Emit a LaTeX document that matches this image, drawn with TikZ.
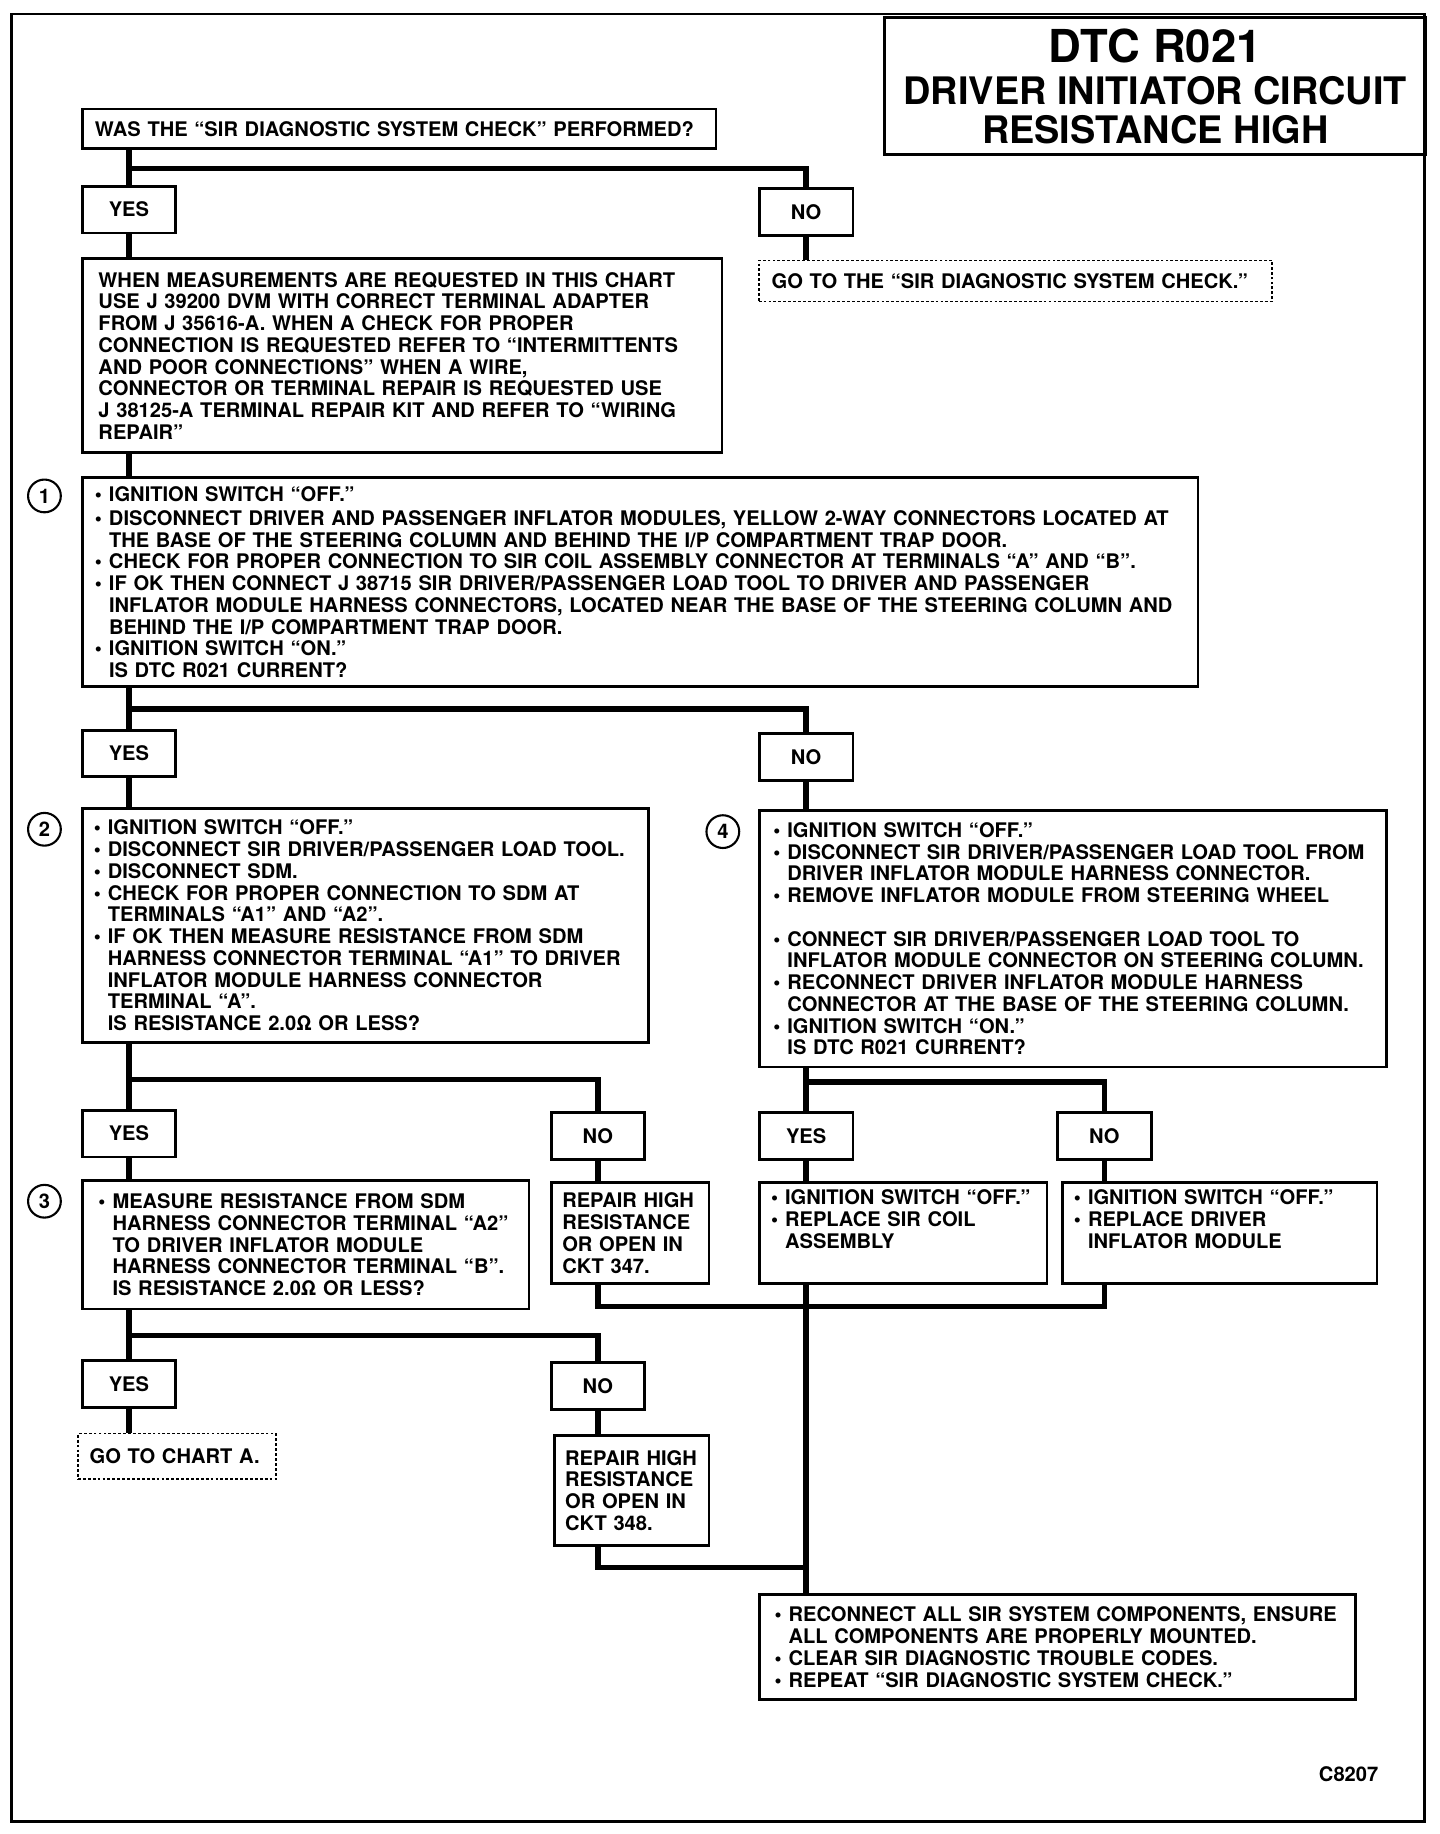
\documentclass[tikz,border=0pt]{standalone}
\usepackage{fontspec}
\setmainfont{TeX Gyre Heros}
\usepackage{tikz}
\newcommand{\chartfont}{\fontsize{8.6}{9.3}\selectfont\bfseries}
\newcommand{\bul}{\makebox[6pt][l]{\textbullet}}
\newcommand{\ind}{\hspace*{6pt}}

\begin{document}
\begin{tikzpicture}[
    x=0.5pt, y=-0.5pt,                % one unit = one pixel of the chart
    box/.style={rectangle, draw, line width=1.2pt, fill=white,
                anchor=north west, align=left, inner xsep=5.5pt,
                inner ysep=0pt, font=\chartfont},
    ans/.style={box, align=center, inner xsep=0pt,
                minimum width=40pt, minimum height=20pt},
    goto/.style={box, line width=0.7pt, dash pattern=on 1.2pt off 0.9pt},
    titlebox/.style={rectangle, draw, line width=1.2pt, anchor=north west,
                     minimum width=231.5pt, minimum height=58.5pt,
                     align=center,
                     font=\bfseries\fontsize{16.2}{16.5}\selectfont},
    num/.style={circle, draw, line width=0.9pt, minimum size=14pt,
                inner sep=0pt, font=\chartfont},
    conn/.style={line width=2.3pt}
]
\useasboundingbox (0,0) rectangle (1231,1568);
\draw [line width=1.2pt] (10,12) rectangle (1218,1557);

\node (title) [titlebox] at (755,14)
    {{\fontsize{19.4}{20}\selectfont DTC R021}\\[1.5pt]
     DRIVER INITIATOR CIRCUIT\\ RESISTANCE HIGH};

\node (q0)    [box, minimum width=271pt, minimum height=17pt,
               text width=260pt] at (69,92)
    {WAS THE “SIR DIAGNOSTIC SYSTEM CHECK” PERFORMED?};
\node (yes1)  [ans] at (69,158)  {YES};
\node (no1)   [ans] at (648,160) {NO};

\node (info)  [box, minimum width=273.5pt, minimum height=83pt,
               inner xsep=7pt, text width=259.5pt] at (69,220)
    {WHEN MEASUREMENTS ARE REQUESTED IN THIS CHART\\
     USE J 39200 DVM WITH CORRECT TERMINAL ADAPTER\\
     FROM J 35616-A. WHEN A CHECK FOR PROPER\\
     CONNECTION IS REQUESTED REFER TO “INTERMITTENTS\\
     AND POOR CONNECTIONS” WHEN A WIRE,\\
     CONNECTOR OR TERMINAL REPAIR IS REQUESTED USE\\
     J 38125-A TERMINAL REPAIR KIT AND REFER TO “WIRING\\
     REPAIR”};
\node (goto1) [goto, minimum width=219.5pt, minimum height=17.5pt,
               text width=208.5pt] at (648,222)
    {GO TO THE “SIR DIAGNOSTIC SYSTEM CHECK.”};

\node (s1)    [box, minimum width=477pt, minimum height=89.5pt,
               text width=466pt] at (69,407)
    {\bul IGNITION SWITCH “OFF.”\\[1pt]
     \bul DISCONNECT DRIVER AND PASSENGER INFLATOR MODULES, YELLOW 2-WAY CONNECTORS LOCATED AT\\
     \ind THE BASE OF THE STEERING COLUMN AND BEHIND THE I/P COMPARTMENT TRAP DOOR.\\
     \bul CHECK FOR PROPER CONNECTION TO SIR COIL ASSEMBLY CONNECTOR AT TERMINALS “A” AND “B”.\\
     \bul IF OK THEN CONNECT J 38715 SIR DRIVER/PASSENGER LOAD TOOL TO DRIVER AND PASSENGER\\
     \ind INFLATOR MODULE HARNESS CONNECTORS, LOCATED NEAR THE BASE OF THE STEERING COLUMN AND\\
     \ind BEHIND THE I/P COMPARTMENT TRAP DOOR.\\
     \bul IGNITION SWITCH “ON.”\\
     \ind IS DTC R021 CURRENT?};
\node (c1)    [num] at (38,424) {1};

\node (yes2)  [ans] at (69,623)  {YES};
\node (no2)   [ans] at (648,626) {NO};

\node (s2)    [box, minimum width=242pt, minimum height=100pt,
               inner xsep=5pt, text width=232pt] at (69,690)
    {\bul IGNITION SWITCH “OFF.”\\
     \bul DISCONNECT SIR DRIVER/PASSENGER LOAD TOOL.\\
     \bul DISCONNECT SDM.\\
     \bul CHECK FOR PROPER CONNECTION TO SDM AT\\
     \ind TERMINALS “A1” AND “A2”.\\
     \bul IF OK THEN MEASURE RESISTANCE FROM SDM\\
     \ind HARNESS CONNECTOR TERMINAL “A1” TO DRIVER\\
     \ind INFLATOR MODULE HARNESS CONNECTOR\\
     \ind TERMINAL “A”.\\
     \ind IS RESISTANCE 2.0Ω OR LESS?};
\node (c2)    [num] at (38,709) {2};

\node (s4)    [box, minimum width=268pt, minimum height=109.5pt,
               inner xsep=6pt, text width=256pt] at (648,692)
    {\bul IGNITION SWITCH “OFF.”\\
     \bul DISCONNECT SIR DRIVER/PASSENGER LOAD TOOL FROM\\
     \ind DRIVER INFLATOR MODULE HARNESS CONNECTOR.\\
     \bul REMOVE INFLATOR MODULE FROM STEERING WHEEL\\[9.3pt]
     \bul CONNECT SIR DRIVER/PASSENGER LOAD TOOL TO\\
     \ind INFLATOR MODULE CONNECTOR ON STEERING COLUMN.\\
     \bul RECONNECT DRIVER INFLATOR MODULE HARNESS\\
     \ind CONNECTOR AT THE BASE OF THE STEERING COLUMN.\\
     \bul IGNITION SWITCH “ON.”\\
     \ind IS DTC R021 CURRENT?};
\node (c4)    [num] at (618,711) {4};

\node (yes3)  [ans] at (69,948)  {YES};
\node (no3)   [ans] at (470,950) {NO};
\node (yes4)  [ans] at (648,950) {YES};
\node (no4)   [ans] at (903,950) {NO};

\node (s3)    [box, minimum width=191pt, minimum height=55pt,
               inner xsep=7pt, text width=177pt] at (69,1008)
    {\bul MEASURE RESISTANCE FROM SDM\\
     \ind HARNESS CONNECTOR TERMINAL “A2”\\
     \ind TO DRIVER INFLATOR MODULE\\
     \ind HARNESS CONNECTOR TERMINAL “B”.\\
     \ind IS RESISTANCE 2.0Ω OR LESS?};
\node (c3)    [num] at (38,1027) {3};

\node (rep347) [box, minimum width=67.5pt, minimum height=43pt,
                inner xsep=4.75pt, text width=58pt] at (470,1010)
    {REPAIR HIGH\\ RESISTANCE\\ OR OPEN IN\\ CKT 347.};
\node (coil)  [box, minimum width=123pt, minimum height=43pt,
               inner xsep=5pt, text width=113pt] at (648,1010)
    {\bul IGNITION SWITCH “OFF.”\\ \bul REPLACE SIR COIL\\ \ind ASSEMBLY\\ \strut};
\node (drv)   [box, minimum width=134.5pt, minimum height=43pt,
               inner xsep=5pt, text width=124.5pt] at (907,1010)
    {\bul IGNITION SWITCH “OFF.”\\ \bul REPLACE DRIVER\\ \ind INFLATOR MODULE\\ \strut};

\node (yes5)  [ans] at (69,1162)  {YES};
\node (no5)   [ans] at (470,1164) {NO};
\node (goto2) [goto, minimum width=84.5pt, minimum height=19.5pt,
               inner xsep=5pt, text width=74.5pt] at (66,1225)
    {GO TO CHART A.};
\node (rep348) [box, minimum width=66pt, minimum height=47pt,
                inner xsep=4.5pt, text width=57pt] at (473,1226)
    {REPAIR HIGH\\ RESISTANCE\\ OR OPEN IN\\ CKT 348.};

\node (fin)   [box, minimum width=255pt, minimum height=45pt,
               inner xsep=6.5pt, text width=242pt] at (648,1362)
    {\bul RECONNECT ALL SIR SYSTEM COMPONENTS, ENSURE\\
     \ind ALL COMPONENTS ARE PROPERLY MOUNTED.\\
     \bul CLEAR SIR DIAGNOSTIC TROUBLE CODES.\\
     \bul REPEAT “SIR DIAGNOSTIC SYSTEM CHECK.”};

\node (code)  [font=\chartfont] at (1153,1517) {C8207};

% branch points
\coordinate (b1) at (109,144);
\coordinate (b2) at (109,606);
\coordinate (b3) at (109,923);
\coordinate (b4) at (688,925);
\coordinate (b5) at (109,1142);
\coordinate (m1) at (688,1117);
\coordinate (m2) at (688,1340);

\draw [conn] (yes1.north |- q0.south)   -- (yes1.north);
\draw [conn] (b1) -| (no1.north);
\draw [conn] (yes1.south) -- (yes1.south |- info.north);
\draw [conn] (no1.south)  -- (no1.south |- goto1.north);
\draw [conn] (yes1.south |- info.south) -- (yes1.south |- s1.north);

\draw [conn] (yes2.north |- s1.south)   -- (yes2.north);
\draw [conn] (b2) -| (no2.north);
\draw [conn] (yes2.south) -- (yes2.south |- s2.north);
\draw [conn] (no2.south)  -- (no2.south |- s4.north);

\draw [conn] (yes3.north |- s2.south)   -- (yes3.north);
\draw [conn] (b3) -| (no3.north);
\draw [conn] (yes4.north |- s4.south)   -- (yes4.north);
\draw [conn] (b4) -| (no4.north);
\draw [conn] (yes3.south) -- (yes3.south |- s3.north);
\draw [conn] (no3.south)  -- (no3.south |- rep347.north);
\draw [conn] (yes4.south) -- (yes4.south |- coil.north);
\draw [conn] (no4.south)  -- (no4.south |- drv.north);

\draw [conn] (no3.south |- rep347.south) |- (m1);
\draw [conn] (no4.south |- drv.south)    |- (m1);
\draw [conn] (yes4.south |- coil.south)  -- (yes4.south |- fin.north);

\draw [conn] (yes5.north |- s3.south)   -- (yes5.north);
\draw [conn] (b5) -| (no5.north);
\draw [conn] (yes5.south) -- (yes5.south |- goto2.north);
\draw [conn] (no5.south)  -- (no5.south |- rep348.north);
\draw [conn] (no5.south |- rep348.south) |- (m2);
\end{tikzpicture}
\end{document}
